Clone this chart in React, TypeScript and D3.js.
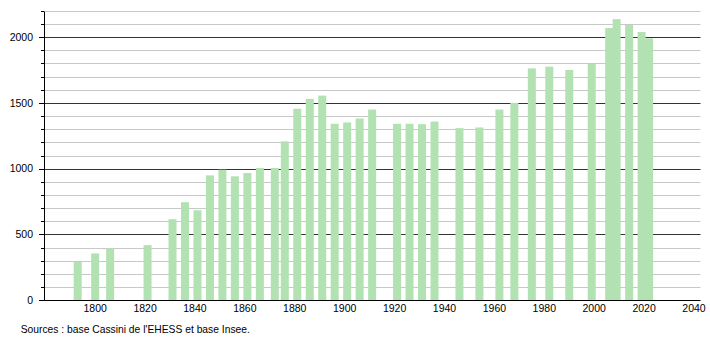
import React from "react";
import * as d3 from "d3";

const years = [1793, 1800, 1806, 1821, 1831, 1836, 1841, 1846, 1851, 1856, 1861, 1866, 1872, 1876, 1881, 1886, 1891, 1896, 1901, 1906, 1911, 1921, 1926, 1931, 1936, 1946, 1954, 1962, 1968, 1975, 1982, 1990, 1999, 2006, 2009, 2014, 2019, 2022];
const population = [292, 356, 394, 419, 616, 745, 684, 949, 992, 942, 967, 1005, 1005, 1207, 1455, 1530, 1555, 1341, 1351, 1381, 1449, 1341, 1341, 1338, 1358, 1308, 1313, 1449, 1500, 1762, 1775, 1750, 1795, 2068, 2136, 2091, 2038, 1990];
const xTicks = [1800, 1820, 1840, 1860, 1880, 1900, 1920, 1940, 1960, 1980, 2000, 2020, 2040];
const yTicks = [0, 500, 1000, 1500, 2000];
const sourceText = "Sources : base Cassini de l'EHESS et base Insee.";

const W = 710;
const H = 340;
const left = 44;
const right = 700.5;

export default function App() {
  const x = d3.scaleLinear().domain([1779.5, 2042.6]).range([left, right]);
  const y = d3.scaleLinear().domain([0, 2200]).range([300.3, 10.7]);
  const minor = d3.range(100, 2201, 100).filter((v) => v % 500 !== 0);
  const allTicks = d3.range(0, 2201, 100);
  const font = "'Liberation Sans', Arial, sans-serif";
  const barW = 8;
  const py = (v: number) => Math.round(y(v)) + 0.5;

  return (
    <svg width={W} height={H} style={{ position: "absolute", left: 0, top: 0, background: "#fff" }}>
      {minor.map((v) => (
        <line key={"m" + v} x1={left} x2={right} y1={py(v)} y2={py(v)} stroke="#c8c8c8" strokeWidth={1} />
      ))}
      {yTicks.filter((v) => v > 0).map((v) => (
        <line key={"M" + v} x1={left} x2={right} y1={py(v)} y2={py(v)} stroke="#333" strokeWidth={1} />
      ))}
      {years.map((yr, i) => (
        <rect
          key={yr}
          x={x(yr) - barW / 2}
          y={y(population[i])}
          width={barW}
          height={y(0) - y(population[i])}
          fill="#b2e2b2"
        />
      ))}
      {allTicks.map((v) => (
        <line
          key={"t" + v}
          x1={v % 500 === 0 ? left - 5 : left - 3}
          x2={left}
          y1={py(v)}
          y2={py(v)}
          stroke="#000"
          strokeWidth={1}
        />
      ))}
      <line x1={left + 0.5} x2={left + 0.5} y1={py(2200)} y2={py(0)} stroke="#000" strokeWidth={1} />
      <line x1={left} x2={right} y1={py(0)} y2={py(0)} stroke="#000" strokeWidth={1} />
      {yTicks.map((v) => (
        <text key={"yl" + v} x={33} y={y(v) + 3.7} textAnchor="end" fontFamily={font} fontSize={10.5} fill="#000">
          {v}
        </text>
      ))}
      {xTicks.map((t) => (
        <text key={"xl" + t} x={x(t)} y={312} textAnchor="middle" fontFamily={font} fontSize={10.5} fill="#000">
          {t}
        </text>
      ))}
      <text x={20.7} y={333} fontFamily={font} fontSize={10.3} fill="#000">
        {sourceText}
      </text>
    </svg>
  );
}
